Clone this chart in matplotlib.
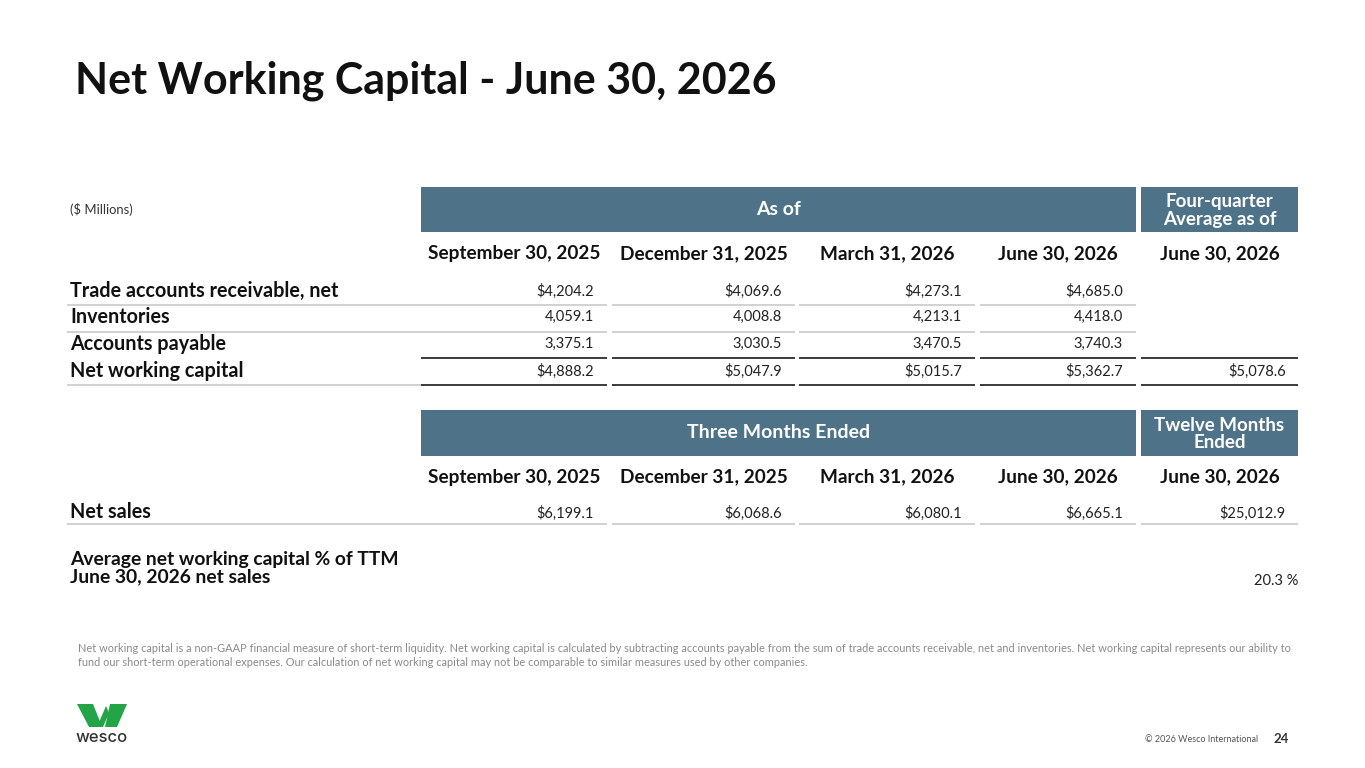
import matplotlib
matplotlib.use("Agg")
from matplotlib import pyplot as plt
from matplotlib.patches import Rectangle, Polygon

plt.rcParams['font.family'] = ['Lato', 'DejaVu Sans']

# ---- data ----
title = 'Net Working Capital - June 30, 2026'
units = '($ Millions)'
quarter_dates = ['September 30, 2025', 'December 31, 2025', 'March 31, 2026', 'June 30, 2026']
summary_date = 'June 30, 2026'

balance_labels = ['Trade accounts receivable, net', 'Inventories', 'Accounts payable', 'Net working capital']
receivables = [4204.2, 4069.6, 4273.1, 4685.0]
inventories = [4059.1, 4008.8, 4213.1, 4418.0]
payables = [3375.1, 3030.5, 3470.5, 3740.3]
net_working_capital = [4888.2, 5047.9, 5015.7, 5362.7]
nwc_four_qtr_avg = 5078.6

net_sales = [6199.1, 6068.6, 6080.1, 6665.1]
net_sales_ttm = 25012.9
avg_nwc_pct_sales = 20.3

footnote = ['Net working capital is a non-GAAP financial measure of short-term liquidity. Net working capital is calculated by subtracting accounts payable from the sum of trade accounts receivable, net and inventories. Net working capital represents our ability to',
            'fund our short-term operational expenses. Our calculation of net working capital may not be comparable to similar measures used by other companies.']

# ---- layout (pixel coords) ----
W, H = 1365, 768
BAR = '#4e7389'
GRAY = '#c9c9c9'
DARK = '#1a1a1a'
cols = [(421, 607), (612, 795), (799, 975), (980, 1136), (1141, 1298)]
label_x = 70
line_x0 = 67
LAB_FS = 14.2
VAL_FS = 10.5

fig = plt.figure(figsize=(W / 100, H / 100), dpi=100)
ax = fig.add_axes([0, 0, 1, 1])
ax.set_xlim(0, W)
ax.set_ylim(H, 0)
ax.axis('off')


def money(v, dollar):
    s = f'{v:,.1f}'
    return '$' + s if dollar else s


def hline(y, x0, x1, color, lw=1.2):
    ax.plot([x0, x1], [y, y], color=color, lw=lw, solid_capstyle='butt')


def header_bars(y0, y1, main_text, side_text):
    ax.add_patch(Rectangle((cols[0][0], y0), cols[3][1] - cols[0][0], y1 - y0, color=BAR, lw=0))
    ax.add_patch(Rectangle((cols[4][0], y0), cols[4][1] - cols[4][0], y1 - y0, color=BAR, lw=0))
    ax.text((cols[0][0] + cols[3][1]) / 2, (y0 + y1) / 2, main_text, color='white',
            fontsize=14, fontweight='bold', ha='center', va='center')
    ax.text((cols[4][0] + cols[4][1]) / 2, (y0 + y1) / 2 + 1, side_text, color='white',
            fontsize=13.5, fontweight='bold', ha='center', va='center', linespacing=1.0)


def date_headers(y):
    for (x0, x1), d in zip(cols, quarter_dates + [summary_date]):
        ax.text((x0 + x1) / 2, y, d, fontsize=13.7, fontweight='bold', ha='center', va='center', color='#111')


# title
ax.text(75, 81, title, fontsize=31, fontweight='bold', va='center', ha='left', color='#111')

# ---- table 1 ----
ax.text(label_x, 209, units, fontsize=9.4, va='center', color='#333')
header_bars(187, 232, 'As of', 'Four-quarter\nAverage as of')
date_headers(254)

rows = [receivables, inventories, payables, net_working_capital]
row_y = [291, 317, 344, 371]
dollar_rows = [True, False, False, True]
for lab, vals, y, dol in zip(balance_labels, rows, row_y, dollar_rows):
    ax.text(label_x, y, lab, fontsize=LAB_FS, fontweight='bold', va='center', color='#111')
    for (x0, x1), v in zip(cols[:4], vals):
        ax.text(x1 - 13, y, money(v, dol), fontsize=VAL_FS, ha='right', va='center', color='#222')
ax.text(cols[4][1] - 12, row_y[3], money(nwc_four_qtr_avg, True), fontsize=VAL_FS,
        ha='right', va='center', color='#222')

for y in (305, 332):
    hline(y, line_x0, cols[0][1], GRAY)
    for x0, x1 in cols[1:4]:
        hline(y, x0, x1, GRAY)
for x0, x1 in cols:
    hline(358, x0, x1, DARK)
    hline(385, x0, x1, DARK)
hline(385, line_x0, cols[0][0], GRAY)

# ---- table 2 ----
header_bars(410, 456, 'Three Months Ended', 'Twelve Months\nEnded')
date_headers(477)

ax.text(label_x, 512, 'Net sales', fontsize=LAB_FS, fontweight='bold', va='center', color='#111')
for (x0, x1), v in zip(cols, net_sales + [net_sales_ttm]):
    ax.text(x1 - 13, 513, money(v, True), fontsize=VAL_FS, ha='right', va='center', color='#222')
hline(524, line_x0, cols[0][1], GRAY)
for x0, x1 in cols[1:]:
    hline(524, x0, x1, GRAY)

ax.text(label_x, 568, 'Average net working capital % of TTM\nJune 30, 2026 net sales', fontsize=13.9,
        fontweight='bold', va='center', color='#111', linespacing=1.05)
ax.text(cols[4][1], 581, f'{avg_nwc_pct_sales:.1f} %', fontsize=VAL_FS, ha='right', va='center', color='#222')

# footnote
for i, line in enumerate(footnote):
    ax.text(78, 648 + i * 14, line, fontsize=7.9, va='center', color='#8a8a8a')

# logo
green = '#22a447'
for pts in ([(77, 704), (93, 704), (101, 724), (99, 727), (89, 727)],
            [(97, 727), (106, 706), (109, 713), (103, 727)],
            [(110, 704), (127, 704), (117, 727), (105, 727)]):
    ax.add_patch(Polygon(pts, closed=True, color=green, lw=0))
ax.text(102, 738, 'wesco', fontsize=12, fontweight='medium', ha='center', va='center',
        color='#333', family=['Inter', 'DejaVu Sans'])

# footer
ax.text(1258, 740, '\u00a9 2026 Wesco International', fontsize=6.5, ha='right', va='center', color='#555')
ax.text(1273, 739, '24', fontsize=9.5, fontweight='bold', ha='left', va='center', color='#333')

fig.savefig('out.png', dpi=100)
